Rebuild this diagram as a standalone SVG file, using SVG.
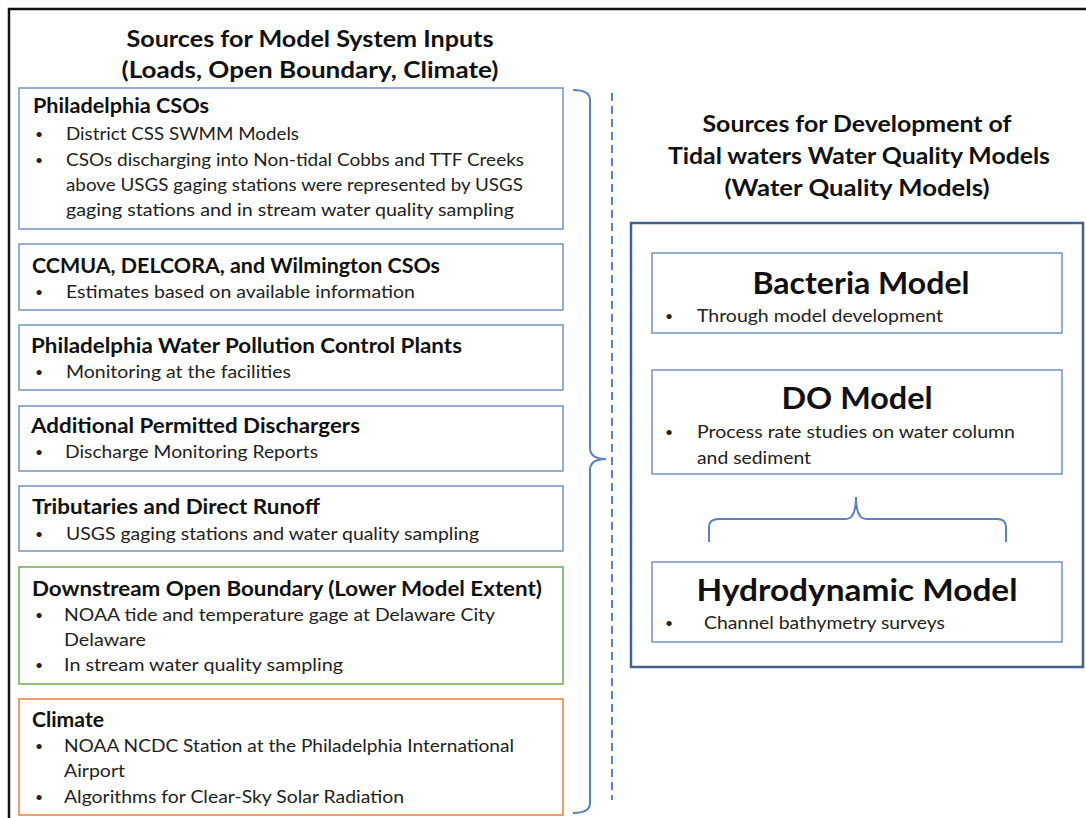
<svg xmlns="http://www.w3.org/2000/svg" width="1086" height="818" viewBox="0 0 1086 818">
<style>
text{font-family:Lato,"Liberation Sans",Arial,sans-serif;fill:#111}
.h{font-size:22px;font-weight:bold;text-anchor:middle}
.t{font-size:20px;font-weight:bold}
.b{font-size:17.5px;fill:#222}
.d{font-size:14px;fill:#222}
.big{font-size:31px;font-weight:bold;text-anchor:middle}
.box{fill:#fff;stroke:#7393c4;stroke-width:1.5}
.brace{fill:none;stroke:#5a82bd;stroke-width:2}
</style>
<rect width="1086" height="818" fill="#fff"/>
<path d="M9,818 V9 H1086" fill="none" stroke="#111" stroke-width="2.5"/>

<g id="header-left">
<text class="h" x="310" y="47" textLength="367" lengthAdjust="spacingAndGlyphs">Sources for Model System Inputs</text>
<text class="h" x="310" y="78" textLength="377" lengthAdjust="spacingAndGlyphs">(Loads, Open Boundary, Climate)</text>
</g>
<g id="header-right">
<text class="h" x="857" y="132" textLength="309" lengthAdjust="spacingAndGlyphs">Sources for Development of</text>
<text class="h" x="859" y="164" textLength="382" lengthAdjust="spacingAndGlyphs">Tidal waters Water Quality Models</text>
<text class="h" x="857" y="196" textLength="265" lengthAdjust="spacingAndGlyphs">(Water Quality Models)</text>
</g>

<g id="philadelphia-csos">
<rect class="box" x="19" y="88" width="544" height="141"/>
<text class="t" x="33" y="113" textLength="176" lengthAdjust="spacingAndGlyphs">Philadelphia CSOs</text>
<text class="d" x="35" y="139">•</text><text class="b" x="66" y="140" textLength="233" lengthAdjust="spacingAndGlyphs">District CSS SWMM Models</text>
<text class="d" x="35" y="165">•</text><text class="b" x="66" y="166" textLength="458" lengthAdjust="spacingAndGlyphs">CSOs discharging into Non-tidal Cobbs and TTF Creeks</text>
<text class="b" x="66" y="191" textLength="457" lengthAdjust="spacingAndGlyphs">above USGS gaging stations were represented by USGS</text>
<text class="b" x="66" y="216" textLength="448" lengthAdjust="spacingAndGlyphs">gaging stations and in stream water quality sampling</text>
</g>
<g id="ccmua">
<rect class="box" x="19" y="244" width="544" height="66"/>
<text class="t" x="32" y="273" textLength="408" lengthAdjust="spacingAndGlyphs">CCMUA, DELCORA, and Wilmington CSOs</text>
<text class="d" x="35" y="297">•</text><text class="b" x="66" y="298" textLength="349" lengthAdjust="spacingAndGlyphs">Estimates based on available information</text>
</g>
<g id="pwpcp">
<rect class="box" x="19" y="325" width="544" height="65"/>
<text class="t" x="31" y="353" textLength="431" lengthAdjust="spacingAndGlyphs">Philadelphia Water Pollution Control Plants</text>
<text class="d" x="35" y="377">•</text><text class="b" x="66" y="378" textLength="225" lengthAdjust="spacingAndGlyphs">Monitoring at the facilities</text>
</g>
<g id="additional">
<rect class="box" x="19" y="406" width="544" height="65"/>
<text class="t" x="31" y="433" textLength="329" lengthAdjust="spacingAndGlyphs">Additional Permitted Dischargers</text>
<text class="d" x="35" y="457">•</text><text class="b" x="65" y="458" textLength="253" lengthAdjust="spacingAndGlyphs">Discharge Monitoring Reports</text>
</g>
<g id="tributaries">
<rect class="box" x="19" y="486" width="544" height="65"/>
<text class="t" x="32" y="514" textLength="288" lengthAdjust="spacingAndGlyphs">Tributaries and Direct Runoff</text>
<text class="d" x="35" y="539">•</text><text class="b" x="66" y="540" textLength="413" lengthAdjust="spacingAndGlyphs">USGS gaging stations and water quality sampling</text>
</g>
<g id="downstream">
<rect x="19" y="567" width="544" height="117" fill="#fff" stroke="#70ad47" stroke-width="1.5"/>
<text class="t" x="32" y="596" textLength="510" lengthAdjust="spacingAndGlyphs">Downstream Open Boundary (Lower Model Extent)</text>
<text class="d" x="35" y="620">•</text><text class="b" x="64" y="621" textLength="431" lengthAdjust="spacingAndGlyphs">NOAA tide and temperature gage at Delaware City</text>
<text class="b" x="64" y="646" textLength="82" lengthAdjust="spacingAndGlyphs">Delaware</text>
<text class="d" x="35" y="670">•</text><text class="b" x="64" y="671" textLength="279" lengthAdjust="spacingAndGlyphs">In stream water quality sampling</text>
</g>
<g id="climate">
<rect x="19" y="699" width="544" height="116" fill="#fff" stroke="#ed7d31" stroke-width="1.5"/>
<text class="t" x="32" y="727" textLength="72" lengthAdjust="spacingAndGlyphs">Climate</text>
<text class="d" x="35" y="751">•</text><text class="b" x="64" y="752" textLength="450" lengthAdjust="spacingAndGlyphs">NOAA NCDC Station at the Philadelphia International</text>
<text class="b" x="64" y="777" textLength="61" lengthAdjust="spacingAndGlyphs">Airport</text>
<text class="d" x="35" y="802">•</text><text class="b" x="64" y="803" textLength="340" lengthAdjust="spacingAndGlyphs">Algorithms for Clear-Sky Solar Radiation</text>
</g>

<g id="wq-models">
<rect x="631" y="223" width="452" height="444" fill="none" stroke="#45628c" stroke-width="2.5"/>
</g>
<g id="bacteria-model">
<rect class="box" x="652" y="253" width="410" height="80"/>
<text class="big" x="861" y="294" textLength="217" lengthAdjust="spacingAndGlyphs">Bacteria Model</text>
<text class="d" x="665" y="321">•</text><text class="b" x="697" y="322" textLength="246" lengthAdjust="spacingAndGlyphs">Through model development</text>
</g>
<g id="do-model">
<rect class="box" x="652" y="370" width="410" height="104"/>
<text class="big" x="857" y="409" textLength="151" lengthAdjust="spacingAndGlyphs">DO Model</text>
<text class="d" x="665" y="437">•</text><text class="b" x="697" y="438" textLength="318" lengthAdjust="spacingAndGlyphs">Process rate studies on water column</text>
<text class="b" x="697" y="464" textLength="114" lengthAdjust="spacingAndGlyphs">and sediment</text>
</g>
<g id="hydrodynamic-model">
<rect class="box" x="652" y="562" width="410" height="80"/>
<text class="big" x="857" y="601" textLength="321" lengthAdjust="spacingAndGlyphs">Hydrodynamic Model</text>
<text class="d" x="665" y="628">•</text><text class="b" x="704" y="629" textLength="241" lengthAdjust="spacingAndGlyphs">Channel bathymetry surveys</text>
</g>

<g id="connectors">
<path class="brace" d="M573,90 Q590,90 590,100 V448 Q590,459 606,459 Q590,459 590,470 V803 Q590,813 573,813"/>
<line x1="612" y1="93" x2="612" y2="800" stroke="#5a82bd" stroke-width="2" stroke-dasharray="8,5"/>
<path class="brace" d="M709,542 V527 Q709,519 719,519 H846 Q856,519 856,497 Q856,519 866,519 H997 Q1006,519 1006,527 V542"/>
</g>
</svg>
